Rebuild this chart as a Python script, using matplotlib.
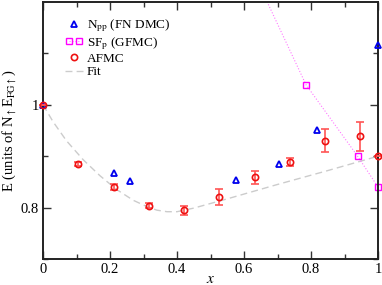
import matplotlib
matplotlib.use("Agg")
import matplotlib.pyplot as plt
from matplotlib.ticker import MultipleLocator, FixedLocator, FuncFormatter
from matplotlib.lines import Line2D
from matplotlib.legend_handler import HandlerLine2D

plt.rcParams['font.family'] = ['Liberation Serif', 'DejaVu Serif']
plt.rcParams['mathtext.fontset'] = 'stix'

# AFMC
afmc_x = [0.0, 0.104, 0.211, 0.316, 0.420, 0.525, 0.633, 0.736, 0.842, 0.946, 1.0]
afmc_e = [1.0, 0.884, 0.840, 0.804, 0.795, 0.821, 0.859, 0.889, 0.930, 0.939, 0.900]
afmc_err = [0.0, 0.004, 0.006, 0.005, 0.009, 0.015, 0.013, 0.008, 0.022, 0.028, 0.0]

# N_pp (FN DMC)
npp_x = [0.0, 0.213, 0.260, 0.576, 0.704, 0.817, 1.0]
npp_e = [1.0, 0.868, 0.852, 0.854, 0.884, 0.950, 1.117]

# SF_p (GFMC)
sf_x = [0.60, 0.785, 0.939, 1.0]
sf_e = [1.296, 1.039, 0.900, 0.840]

# Fit curve
fit_x = [0.0, 0.03, 0.07, 0.12, 0.17, 0.22, 0.27, 0.31, 0.34, 0.37, 0.40, 0.45, 0.55, 0.70, 0.85, 1.0]
fit_e = [1.0, 0.967, 0.930, 0.893, 0.862, 0.835, 0.814, 0.802, 0.795, 0.792, 0.792, 0.799, 0.817, 0.845, 0.872, 0.900]

y_major = [0.8, 1.0]
y_minor = [0.7, 0.9, 1.1]

fig = plt.figure(figsize=(3.82, 2.85), dpi=100)
ax = fig.add_axes([0.1126, 0.0912, 0.877, 0.902])

ax.plot(fit_x, fit_e, linestyle=(0, (5, 3)), color='#cccccc', lw=1.0, zorder=1)
ax.plot(sf_x, sf_e, linestyle=':', color='#ff77ff', lw=0.8, zorder=2)
ax.plot(sf_x, sf_e, linestyle='none', marker='s', ms=4.5, mfc='none', mec='#ff00ff',
        mew=1.0, zorder=2, clip_on=False)
ax.plot(npp_x, npp_e, linestyle='none', marker='^', ms=4.5, mfc='none', mec='#0000ee',
        mew=1.3, zorder=3, clip_on=False)
ax.errorbar(afmc_x, afmc_e, yerr=afmc_err, fmt='o', ms=4.5, mfc='none', mec='#ee1111',
            mew=1.2, ecolor='#ff5555', elinewidth=1.2, capsize=3, capthick=1.0,
            zorder=4, clip_on=False)

ax.set_xlim(0, 1)
ax.set_ylim(0.7, 1.2)
ax.xaxis.set_major_locator(MultipleLocator(0.2))
ax.xaxis.set_minor_locator(MultipleLocator(0.1))
ax.yaxis.set_major_locator(FixedLocator(y_major))
ax.yaxis.set_minor_locator(FixedLocator(y_minor))

def fmt(v, pos):
    s = ('%.1f' % v)
    if s.endswith('.0'):
        s = s[:-2]
    return s
ax.xaxis.set_major_formatter(FuncFormatter(fmt))
ax.yaxis.set_major_formatter(FuncFormatter(fmt))

ax.tick_params(which='both', direction='in', top=True, right=True, labelsize=10.5,
               color='#333333', pad=3)
ax.tick_params(which='major', length=6, width=1.0)
ax.tick_params(which='minor', length=3.5, width=1.0)
for s in ax.spines.values():
    s.set_linewidth(1.4)
    s.set_color('#222222')

ax.set_xlabel(r'$x$', fontsize=11, labelpad=-2)
ax.set_ylabel(r'E (units of N$_\uparrow$E$_{\mathrm{FG}\uparrow}$)', fontsize=10.5, labelpad=2)

h_npp = Line2D([], [], linestyle='none', marker='^', ms=4.5, mfc='none', mec='#0000ee', mew=1.3)
h_sf = Line2D([], [], linestyle=':', color='#ff77ff', lw=0.8, marker='s', ms=4.5,
              mfc='none', mec='#ff00ff', mew=1.0)
h_afmc = Line2D([], [], linestyle='none', marker='o', ms=4.5, mfc='none', mec='#ee1111', mew=1.2)
h_fit = Line2D([], [], linestyle=(0, (5, 3)), color='#cccccc', lw=1.0)
labels = [r'N$_\mathrm{pp}$ (FN DMC)', r'SF$_\mathrm{p}$ (GFMC)', 'AFMC', 'Fit']
leg = ax.legend([h_npp, h_sf, h_afmc, h_fit], labels, loc='upper left',
                bbox_to_anchor=(0.065, 0.94), frameon=False, fontsize=9.5,
                handlelength=1.4, handletextpad=0.25, labelspacing=0.08, borderaxespad=0.0,
                borderpad=0.0,
                handler_map={h_sf: HandlerLine2D(numpoints=2),
                             h_npp: HandlerLine2D(numpoints=1),
                             h_afmc: HandlerLine2D(numpoints=1)})
fig.savefig('out.png', dpi=100)
